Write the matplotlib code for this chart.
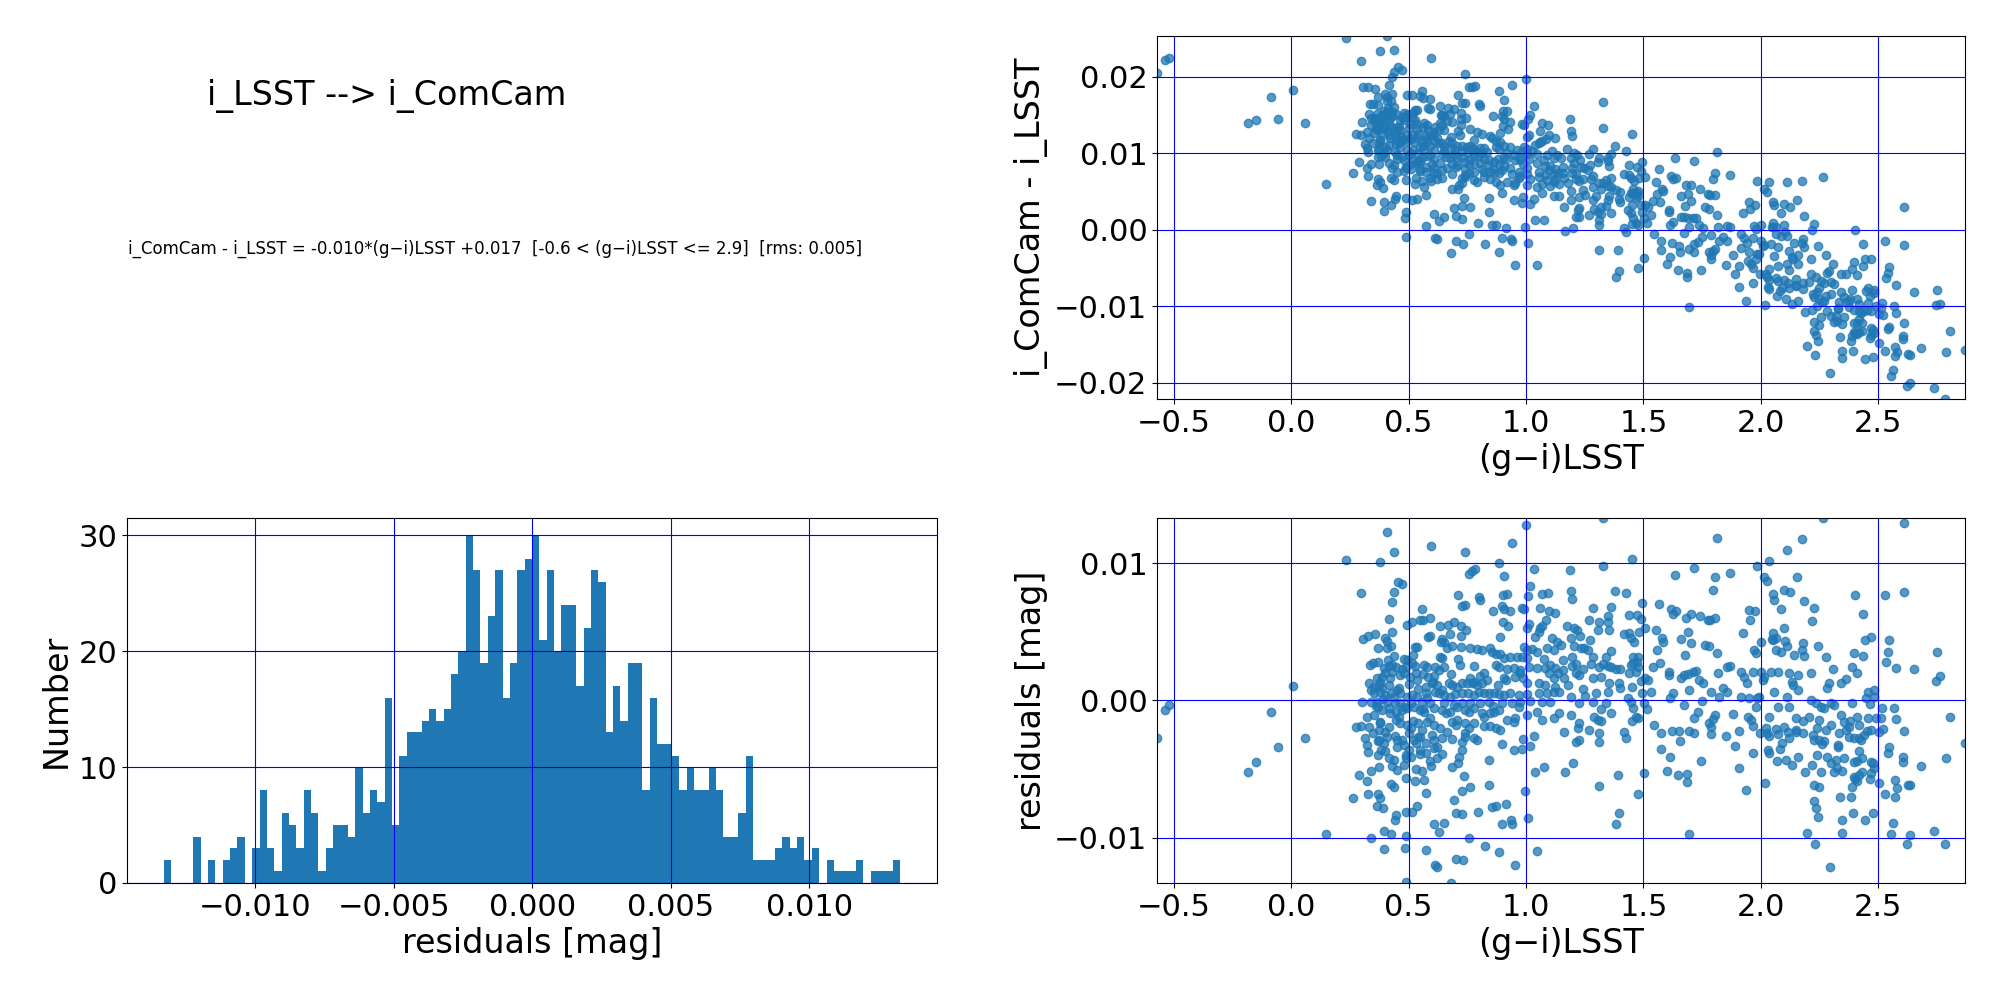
import numpy as np
import matplotlib.pyplot as plt

# fit from the picture: i_ComCam - i_LSST = slope*(g-i) + intercept
slope = -0.01044
intercept = 0.01734
rms = 0.005
gi_lo, gi_hi = -0.6, 2.9

# (g-i)LSST, residual [mmag]
left_sparse = [(-0.572, -2.77), (-0.539, -0.71), (-0.523, -0.34), (-0.184, -5.26), (-0.150, -4.53),
               (-0.087, -0.88), (-0.057, -3.43), (0.007, 1.02), (0.058, -2.77), (0.148, -9.76),
               (0.233, 10.22), (0.262, -7.13), (0.295, 7.81), (0.274, -1.97), (0.288, -5.47),
               (0.301, -0.15), (0.306, 4.48), (0.328, 4.70), (0.357, 4.82)]

upper_left = [(0.407, 12.26), (0.437, 10.80), (0.380, 10.07), (0.594, 11.27), (0.739, 10.80), (0.940, 11.46),
              (1.001, 12.80), (0.884, 10.0), (1.033, 9.59), (0.756, 9.22), (0.770, 9.44), (0.782, 9.59),
              (0.905, 9.05), (0.455, 8.64), (0.472, 8.49), (0.437, 7.91), (0.430, 7.18), (1.018, 8.32),
              (1.007, 7.62), (1.068, 7.76), (1.092, 7.81), (0.709, 7.66), (0.799, 7.49), (0.806, 7.27),
              (0.902, 7.64), (0.919, 7.76), (0.728, 6.84), (0.739, 6.96), (0.557, 6.64), (0.860, 6.52),
              (0.899, 6.89), (0.905, 6.64), (0.933, 6.54), (0.983, 6.72), (0.990, 6.67), (1.061, 6.72),
              (1.096, 6.47), (1.122, 6.35), (0.416, 5.91), (0.494, 5.50), (0.515, 5.69), (0.548, 5.82),
              (0.562, 5.82), (0.593, 5.99), (0.633, 5.43), (0.667, 5.50), (0.692, 5.69), (0.721, 5.43),
              (0.746, 5.13), (0.902, 5.67), (0.922, 5.43), (1.011, 5.57), (1.004, 5.26), (1.061, 5.26),
              (1.087, 5.86), (0.401, 4.57), (0.408, 4.33), (0.430, 4.94), (0.582, 4.60), (0.593, 4.65),
              (0.643, 4.45), (0.678, 4.84), (0.723, 4.70), (0.888, 4.60), (1.040, 4.60), (1.054, 5.01),
              (1.068, 5.38), (1.111, 4.53), (0.369, 3.84), (0.408, 3.80), (0.423, 3.97), (0.525, 3.87),
              (0.536, 3.87), (0.638, 4.28), (0.650, 4.28), (0.664, 3.80), (0.685, 3.92), (0.723, 3.87),
              (0.763, 3.84), (0.791, 3.75), (0.813, 3.67), (0.848, 3.80), (0.855, 3.55), (0.990, 3.87),
              (1.004, 3.67), (1.026, 3.72), (1.047, 3.55), (1.089, 3.80), (1.118, 3.67), (0.437, 3.26),
              (0.635, 3.19), (0.643, 3.07), (0.709, 2.99), (0.870, 3.38), (0.891, 3.38), (0.905, 3.07),
              (0.933, 3.19), (0.962, 3.19), (0.983, 3.19), (1.004, 3.07), (1.078, 3.02), (1.104, 2.58),
              (1.122, 2.34), (0.335, 2.58), (0.349, 2.75), (0.369, 2.82), (0.394, 2.34), (0.416, 2.51),
              (0.430, 2.58), (0.444, 2.41), (0.479, 2.99), (0.494, 2.94), (0.487, 2.46), (0.515, 2.70),
              (0.529, 2.51), (0.565, 2.58), (0.579, 2.46), (0.614, 2.46), (0.628, 2.21), (0.650, 2.46),
              (0.870, 2.58), (0.884, 2.46), (0.919, 2.26), (0.948, 2.34), (0.976, 2.21), (1.011, 2.46),
              (1.047, 2.34), (1.082, 2.34), (0.366, 1.61), (0.387, 1.73), (0.401, 1.97), (0.430, 2.09),
              (0.462, 1.85), (0.479, 1.97), (0.505, 1.73), (0.536, 1.48), (0.582, 1.73), (0.604, 1.36),
              (0.763, 1.61), (0.777, 1.36), (0.806, 1.78), (0.820, 1.97), (0.834, 1.48), (0.905, 1.61),
              (0.916, 1.48), (0.955, 1.73), (0.973, 1.97), (0.987, 1.61), (1.096, 1.97), (1.118, 1.61),
              (0.332, 1.24), (0.352, 1.00), (0.373, 1.12), (0.387, 0.88), (0.416, 1.12), (0.572, 1.00),
              (0.600, 1.29), (0.621, 1.12), (0.643, 0.75), (0.671, 1.24), (0.685, 1.12), (0.704, 1.00),
              (0.728, 1.24), (0.749, 1.29), (0.770, 1.24), (0.791, 1.12), (0.813, 1.24), (1.004, 1.24),
              (1.054, 1.24), (1.082, 1.12), (1.125, 1.00)]

core_left = [(0.338, 0.75), (0.352, 0.51), (0.380, 0.63), (0.401, 0.39), (0.423, 0.56), (0.437, 0.27),
             (0.465, 0.51), (0.451, 0.75), (0.494, 0.27), (0.515, 0.39), (0.536, 0.27), (0.576, 0.51),
             (0.614, 0.63), (0.628, 0.51), (0.650, 0.39), (0.678, 0.27), (0.699, 0.44), (0.728, 0.56),
             (0.753, 0.51), (0.777, 0.39), (0.799, 0.63), (0.820, 0.51), (0.841, 0.56), (0.862, 0.56),
             (0.884, 0.44), (0.905, 0.39), (0.933, 0.51), (0.969, 0.39), (1.004, 0.44), (1.054, 0.51),
             (1.089, 0.56), (1.118, 0.63),
             (0.339, -0.10), (0.366, -0.10), (0.409, -0.10), (0.465, -0.22), (0.508, -0.22), (0.557, -0.10),
             (0.593, -0.22), (0.650, -0.22), (0.692, -0.34), (0.728, -0.22), (0.763, -0.17), (0.806, -0.22),
             (0.841, -0.15), (0.898, -0.17), (0.940, -0.22), (0.976, -0.10), (1.018, -0.02), (1.068, -0.15),
             (1.104, -0.10),
             (0.323, -1.19), (0.352, -1.07), (0.369, -0.46), (0.387, -0.71), (0.416, -0.58), (0.444, -0.83),
             (0.472, -0.71), (0.494, -0.58), (0.522, -0.46), (0.550, -0.71), (0.565, -0.83), (0.607, -0.58),
             (0.643, -0.71), (0.678, -0.83), (0.706, -0.46), (0.742, -0.71), (0.756, -0.83), (0.777, -0.58),
             (0.813, -0.95), (0.848, -0.95), (0.865, -0.83), (0.884, -0.71), (0.919, -1.44), (0.955, -1.31),
             (0.969, -0.46), (1.004, -1.07), (1.047, -0.83), (1.068, -1.44), (1.118, -1.31),
             (0.295, -1.87), (0.330, -1.92), (0.373, -2.17), (0.380, -1.68), (0.416, -1.92), (0.444, -1.44),
             (0.465, -1.68), (0.494, -1.80), (0.508, -2.04), (0.539, -1.68), (0.557, -2.17), (0.593, -1.31),
             (0.607, -1.80), (0.635, -2.04), (0.664, -2.29), (0.685, -1.56), (0.706, -1.44), (0.742, -1.68),
             (0.756, -2.04), (0.777, -1.68), (0.820, -1.87), (0.848, -1.87), (0.870, -2.04), (0.891, -2.17),
             (0.316, -2.77), (0.323, -3.26), (0.373, -2.90), (0.394, -3.14), (0.409, -2.65), (0.451, -2.90),
             (0.479, -3.26), (0.522, -2.90), (0.550, -2.65), (0.572, -3.14), (0.607, -2.90), (0.643, -2.77),
             (0.685, -2.85), (0.728, -3.02), (0.742, -2.65), (0.777, -2.77), (0.791, -2.90), (0.898, -3.21),
             (0.947, -3.63), (0.983, -3.58), (0.987, -2.82), (1.018, -3.33), (1.033, -2.58)]

core_fill = [(0.36, -0.4), (0.38, -1.6), (0.40, -2.3), (0.42, -0.9), (0.44, -2.6), (0.46, -1.2), (0.48, -0.5),
             (0.50, -2.4), (0.52, -1.5), (0.54, -2.7), (0.56, -0.6), (0.58, -1.6), (0.60, -2.5), (0.62, -3.4),
             (0.40, -3.7), (0.45, -3.4), (0.50, -3.6), (0.55, -3.9), (0.38, 1.3), (0.42, 1.6), (0.46, 0.9),
             (0.50, 1.2), (0.54, 0.8), (0.58, 0.2), (0.44, -0.2), (0.39, 0.1), (0.47, 2.3), (0.52, 3.3),
             (0.56, 1.9), (0.61, 1.8), (0.66, -0.9), (0.70, -1.8), (0.74, -2.4), (0.68, 1.9), (0.72, 2.6),
             (0.78, 2.5), (0.82, -1.2), (0.86, -0.4), (0.88, 1.1), (0.95, -1.6), (0.35, -2.4), (0.37, -3.0),
             (0.43, -4.8), (0.47, -2.9), (0.49, -4.2), (0.53, -3.1), (0.59, -4.4), (0.64, -3.9), (0.53, 2.0),
             (0.41, 2.9), (1.18, 1.1), (1.25, 0.3), (1.32, -0.6), (1.40, 0.9), (1.45, -1.5), (1.36, 3.6),
             (1.22, -2.0), (1.29, -1.2), (2.28, -2.2), (2.33, -3.4), (2.38, -1.5), (2.44, -2.5), (2.26, -3.2),
             (2.42, -3.7), (2.30, -4.6), (2.47, -5.3), (2.18, -1.5), (2.09, -3.1), (1.88, -1.0), (1.84, 0.9)]

lower_left = [(0.326, -3.80), (0.369, -3.99), (0.383, -3.63), (0.416, -4.23), (0.437, -4.36), (0.487, -3.99),
              (0.508, -4.11), (0.550, -3.63), (0.572, -3.87), (0.610, -3.50), (0.621, -4.23), (0.713, -4.11),
              (0.728, -3.63), (0.841, -4.36), (1.075, -4.89), (1.040, -5.26),
              (0.338, -5.16), (0.373, -4.89), (0.451, -5.09), (0.487, -5.69), (0.479, -4.72), (0.533, -5.04),
              (0.557, -5.13), (0.597, -4.79), (0.685, -4.84), (0.709, -4.60), (0.735, -5.50), (0.323, -5.86),
              (0.423, -6.11), (0.437, -6.30), (0.529, -5.86), (0.565, -5.82),
              (0.328, -6.84), (0.369, -6.79), (0.380, -7.15), (0.366, -7.71), (0.391, -7.83), (0.576, -6.72),
              (0.692, -7.27), (0.728, -6.62), (0.763, -6.35), (0.841, -6.18), (0.997, -6.59), (0.487, -8.13),
              (0.515, -8.13), (0.536, -7.71), (0.855, -7.76), (0.870, -7.69), (0.915, -7.57),
              (0.703, -8.20), (0.728, -8.30), (0.794, -8.13), (0.444, -8.32), (0.441, -8.73), (0.610, -8.98),
              (0.628, -9.59), (0.650, -8.91), (0.898, -9.03), (0.936, -8.73), (0.940, -8.98), (1.007, -8.59),
              (0.397, -9.51), (0.423, -9.71), (0.338, -10.0), (0.487, -9.90), (0.756, -10.0),
              (0.394, -10.80), (0.484, -10.73), (0.572, -10.88), (0.827, -10.63), (0.887, -11.05), (1.047, -10.97),
              (0.703, -11.53), (0.730, -11.65), (0.614, -12.02), (0.620, -12.14), (0.955, -12.02), (0.487, -13.24),
              (0.682, -13.31)]

upper_right = [(1.327, 13.28), (2.267, 13.28), (2.611, 12.92), (1.815, 11.82), (2.175, 11.75), (2.113, 10.95),
               (1.453, 10.29), (2.035, 10.17), (1.984, 9.81), (1.330, 9.81), (1.188, 9.51), (1.717, 9.64),
               (1.636, 9.15), (1.806, 8.98), (1.869, 9.27), (2.013, 8.98), (2.028, 8.71), (2.154, 8.98),
               (1.798, 8.03), (1.192, 7.98), (1.196, 7.40), (1.377, 7.98), (1.428, 7.83), (2.053, 7.76),
               (2.057, 7.32), (2.099, 8.00), (2.125, 7.86), (2.402, 7.66), (2.530, 7.66), (2.611, 7.88),
               (2.184, 7.25), (1.496, 7.08), (1.568, 7.01), (1.364, 6.79), (1.287, 6.72), (2.087, 6.67),
               (2.228, 6.72), (1.951, 6.59), (1.974, 6.52), (1.618, 6.64), (1.639, 6.52), (1.628, 6.28),
               (1.348, 6.16), (1.438, 6.20), (1.472, 6.25), (1.490, 5.91), (1.270, 5.86), (1.309, 5.67),
               (1.348, 5.74), (1.682, 6.03), (1.703, 6.30), (1.741, 6.16), (1.775, 5.82), (1.784, 5.86),
               (1.805, 5.99), (1.955, 5.82), (2.436, 6.28), (2.219, 5.77), (1.175, 5.43), (1.206, 5.26),
               (1.216, 5.13), (1.305, 5.13), (1.352, 5.09), (1.508, 5.26), (1.553, 5.13), (2.100, 5.26),
               (1.926, 4.89), (2.050, 4.89), (2.047, 4.45), (2.065, 4.53), (1.419, 4.82), (1.438, 4.89),
               (1.448, 4.53), (1.462, 4.28), (1.481, 4.94), (1.130, 4.22), (1.150, 4.04), (1.192, 4.53),
               (1.228, 4.65), (1.206, 3.92), (1.273, 4.36), (1.249, 3.80), (1.263, 3.67), (1.235, 3.80),
               (1.580, 4.53), (1.582, 4.28), (1.660, 4.45), (1.691, 5.01), (1.703, 4.16), (1.762, 4.04),
               (1.781, 3.92), (1.560, 3.67), (1.679, 3.31), (1.815, 3.48), (1.972, 3.67), (1.979, 3.43),
               (2.001, 4.23), (2.053, 4.40), (2.065, 3.67), (2.086, 3.55), (2.104, 4.33), (2.110, 3.92),
               (2.143, 3.31), (2.181, 4.16), (2.175, 3.67), (2.185, 3.24), (2.245, 3.92), (2.279, 3.16),
               (2.398, 3.43), (2.434, 3.26), (2.443, 4.36), (2.469, 4.60), (2.547, 4.40), (2.543, 3.50),
               (2.533, 2.77), (2.575, 2.36), (2.653, 2.26), (2.752, 3.50), (2.745, 1.41), (2.764, 1.78),
               (2.806, -1.24),
               (1.156, 2.94), (1.196, 3.19), (1.159, 2.21), (1.196, 2.51), (1.213, 2.65), (1.241, 2.26),
               (1.277, 2.65), (1.287, 3.19), (1.312, 2.46), (1.327, 2.65), (1.341, 3.19), (1.348, 2.51),
               (1.362, 2.41), (1.383, 2.26), (1.400, 2.26), (1.447, 2.58), (1.457, 3.19), (1.475, 3.19),
               (1.471, 2.82), (1.475, 2.46), (1.468, 2.09), (1.457, 2.70),
               (1.135, 1.97), (1.163, 1.61), (1.213, 1.97), (1.224, 1.85), (1.284, 1.61), (1.319, 1.73),
               (1.355, 1.24), (1.397, 1.24), (1.440, 1.97), (1.451, 1.00), (1.490, 1.44), (1.508, 1.61),
               (1.518, 1.48), (1.539, 2.46), (1.572, 2.70), (1.610, 2.09), (1.610, 1.85), (1.660, 1.61),
               (1.674, 1.85), (1.695, 0.75), (1.692, 1.92), (1.712, 2.09), (1.723, 2.17), (1.738, 1.48),
               (1.752, 1.24), (1.819, 1.97), (1.855, 2.46), (1.867, 2.51), (1.914, 2.04), (1.930, 1.73),
               (1.940, 1.24), (1.966, 2.04), (2.001, 2.04), (2.008, 1.48), (2.043, 2.09), (2.072, 2.04),
               (2.015, 1.73), (2.121, 1.97), (2.135, 1.36), (2.138, 1.12), (2.157, 1.85), (2.157, 0.75),
               (2.213, 1.97), (2.308, 2.26), (2.291, 1.24), (2.284, 0.88), (2.341, 1.24), (2.362, 1.53),
               (2.390, 2.46), (2.412, 1.97), (2.455, 0.63), (2.484, 0.75)]

core_right = [(1.142, 0.63), (1.192, 0.22), (1.241, 0.80), (1.284, -0.10), (1.298, 0.56), (1.348, 0.63),
              (1.433, 0.15), (1.447, -0.10), (1.494, 0.51), (1.533, 0.63), (1.504, -0.17), (1.516, -0.66),
              (1.624, 0.56), (1.614, 0.15), (1.674, -0.34), (1.750, -0.05), (1.788, 0.63), (1.823, 0.22),
              (1.858, 0.63), (1.915, 0.22), (1.984, 0.15), (1.949, 0.15), (2.057, 0.63), (2.113, 0.22),
              (2.213, 0.02), (2.235, -0.22), (2.255, -0.46), (2.269, -0.58), (2.298, -0.17), (2.312, -0.34),
              (2.390, -0.22), (2.447, 0.15), (2.482, 0.27), (2.518, -0.58), (2.567, -0.58), (2.465, -0.27),
              (1.142, -0.95), (1.192, -1.07), (1.227, -0.22), (1.227, -1.68), (1.305, -1.44), (1.319, -1.48),
              (1.341, -0.22), (1.362, -0.95), (1.454, -0.58), (1.468, -1.19), (1.475, -1.31), (1.546, -1.80),
              (1.717, -1.31), (1.731, -0.83), (1.795, -1.39), (1.806, -1.07), (1.781, -1.68), (1.788, -1.97),
              (1.944, -1.19), (1.958, -1.44), (1.979, -0.46), (1.993, 0.27), (1.965, -1.85), (2.022, -2.04),
              (2.036, -1.19), (2.065, -2.12), (2.072, -0.46), (2.100, -1.97), (2.121, -0.46), (2.150, -1.31),
              (2.150, -2.17), (2.206, -1.19), (2.241, -2.04), (2.248, -1.44), (2.298, -1.80), (2.341, -1.07),
              (2.355, -1.56), (2.376, -1.92), (2.412, -1.19), (2.419, -1.80), (2.455, -1.31), (2.469, -2.17),
              (2.490, -1.31), (2.504, -2.29), (2.511, -1.31), (2.522, -2.12), (2.575, -1.39), (2.611, -2.24),
              (1.160, -2.29), (1.211, -3.02), (1.225, -2.90), (1.270, -2.17), (1.313, -2.41), (1.313, -3.02),
              (1.419, -2.29), (1.426, -2.73), (1.575, -2.36), (1.622, -2.21), (1.650, -2.21), (1.656, -2.97),
              (1.693, -2.21), (1.717, -2.36), (1.788, -2.46), (1.852, -2.60), (1.891, -3.33), (1.906, -2.21),
              (1.996, -2.36), (2.025, -2.36), (2.036, -2.60), (2.072, -2.48), (2.114, -2.29), (2.121, -2.77),
              (2.150, -2.29), (2.178, -2.41), (2.221, -2.53), (2.228, -2.90), (2.249, -2.90), (2.270, -2.94),
              (2.327, -3.26), (2.334, -2.41), (2.362, -2.17), (2.376, -2.65), (2.397, -2.77), (2.418, -2.77),
              (2.426, -2.90), (2.454, -2.21), (2.547, -3.43), (2.541, -3.82), (2.870, -3.14)]

lower_right = [(1.199, -4.60), (1.168, -5.26), (1.574, -3.58), (1.614, -4.11), (1.745, -4.43), (1.600, -5.13),
               (1.646, -5.47), (1.685, -5.40), (1.685, -5.94), (1.909, -4.96), (1.965, -3.82), (2.031, -3.63),
               (2.036, -3.87), (2.082, -3.58), (2.071, -4.43), (2.106, -4.36), (2.132, -4.74), (2.160, -4.16),
               (2.189, -5.21), (2.220, -4.72), (2.241, -3.99), (2.255, -5.21), (2.284, -4.16), (2.312, -5.26),
               (2.319, -4.36), (2.324, -4.96), (2.348, -5.13), (2.355, -4.23), (2.398, -4.48), (2.412, -4.40),
               (2.431, -4.23), (2.476, -4.60), (2.469, -4.48), (2.483, -4.96), (2.604, -4.11), (2.604, -4.48),
               (2.682, -4.79), (2.788, -4.23), (2.399, -5.62), (2.419, -5.45), (2.433, -5.21),
               (1.312, -6.25), (1.393, -5.47), (1.479, -6.86), (1.504, -5.33), (1.937, -6.50), (2.019, -6.06),
               (2.227, -6.18), (2.248, -6.30), (2.338, -7.03), (2.383, -7.08), (2.390, -6.30), (2.402, -5.77),
               (2.412, -5.86), (2.466, -5.77), (2.504, -5.99), (2.530, -6.84), (2.572, -7.03), (2.572, -5.82),
               (2.582, -6.42), (2.629, -6.20), (2.634, -6.20), (2.227, -7.35), (2.234, -7.81), (2.243, -8.49),
               (1.397, -8.18), (1.383, -9.03),
               (2.394, -8.18), (2.476, -8.18), (2.446, -8.73), (2.346, -8.73), (2.346, -9.64), (2.195, -9.64),
               (2.232, -10.44), (2.564, -8.91), (2.554, -9.76), (2.637, -9.83), (2.623, -10.44), (2.738, -9.51),
               (2.783, -10.44), (2.296, -12.14), (1.696, -9.71)]

# histogram of the residuals, 100 bins between min and max residual
hist_counts = [2, 0, 0, 0, 4, 0, 2, 0, 2, 3,
               4, 0, 3, 8, 3, 1, 6, 5, 3, 8,
               6, 1, 3, 5, 5, 4, 10, 6, 8, 7,
               16, 5, 11, 13, 13, 14, 15, 14, 15, 18,
               20, 30, 27, 19, 23, 27, 16, 19, 27, 28,
               30, 21, 27, 20, 24, 24, 17, 22, 27, 26,
               13, 17, 14, 19, 19, 8, 16, 12, 12, 11,
               8, 10, 8, 8, 10, 8, 4, 4, 6, 11,
               2, 2, 2, 3, 4, 3, 4, 2, 3, 0,
               2, 1, 1, 1, 2, 0, 1, 1, 1, 2]

pts = np.array(left_sparse + upper_left + core_left + core_fill + lower_left
               + upper_right + core_right + lower_right)
gi = pts[:, 0]
resid = pts[:, 1] / 1000.0
dmag = slope * gi + intercept + resid

tick_fs = 22
label_fs = 24
fig = plt.figure(figsize=(20, 10), dpi=100)

# text panel
fig.text(0.1935, 0.904, 'i_LSST --> i_ComCam', fontsize=24, ha='center', va='center')
label = ('i_ComCam - i_LSST = %.3f*(g\u2212i)LSST %+.3f  [%.1f < (g\u2212i)LSST <= %.1f]  [rms: %.3f]'
         % (slope, intercept, gi_lo, gi_hi, rms))
fig.text(0.0638, 0.751, label, fontsize=12, ha='left', va='center')

# top right: colour term
ax1 = fig.add_axes([0.5785, 0.601, 0.404, 0.363])
ax1.scatter(gi, dmag, alpha=0.75)
ax1.set_xlim(gi.min(), gi.max())
ax1.set_ylim(dmag.min(), dmag.max())
ax1.set_xlabel('(g\u2212i)LSST', fontsize=label_fs)
ax1.set_ylabel('i_ComCam - i_LSST', fontsize=label_fs)
ax1.grid(color='b')

# bottom left: histogram of residuals
ax2 = fig.add_axes([0.0635, 0.117, 0.405, 0.365])
edges = np.linspace(resid.min(), resid.max(), len(hist_counts) + 1)
centers = 0.5 * (edges[:-1] + edges[1:])
ax2.hist(centers, bins=edges, weights=hist_counts)
ax2.set_xlabel('residuals [mag]', fontsize=label_fs)
ax2.set_ylabel('Number', fontsize=label_fs)
ax2.grid(color='b')

# bottom right: residuals vs colour
ax3 = fig.add_axes([0.5785, 0.117, 0.404, 0.365])
ax3.scatter(gi, resid, alpha=0.75)
ax3.set_xlim(gi.min(), gi.max())
ax3.set_ylim(resid.min(), resid.max())
ax3.set_xlabel('(g\u2212i)LSST', fontsize=label_fs)
ax3.set_ylabel('residuals [mag]', fontsize=label_fs)
ax3.grid(color='b')

for ax in (ax1, ax2, ax3):
    ax.tick_params(labelsize=tick_fs)

fig.savefig('out.png')
